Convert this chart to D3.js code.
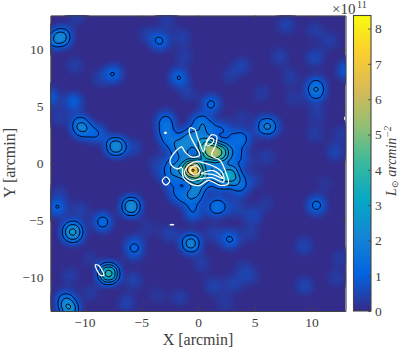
<!DOCTYPE html>
<html>
<head>
<meta charset="utf-8">
<script src="https://cdn.jsdelivr.net/npm/d3@7"></script>
<style>
  html, body { margin: 0; background: #fff; }
  text { font-family: "Liberation Serif", serif; fill: #404040; }
</style>
</head>
<body>
<svg id="chart" width="399" height="349"></svg>
<script>
// luminosity peaks: position in arcmin, peak in 1e11 Lsun/arcmin^2
// the map is the smoothed sum of these, done with d3.contourDensity
const peakX = [
  -0.47, 1.0, 2.0, 2.76, -0.26, -2.85, -2.85, -2.75, -2.4, 0.1, 0.9, 2.2, 3.4, 4.1, -0.7, 0.6, -1.3, -1.9, 1.2, 0.2, 1.94, -0.41, 1.88, 1.4, 1.15,
  -1.8, -2.2, -2.2, -1.9, -1.1, 3.7, 3.6, 3.4,
  -12, -12.9, -3.35, -7.45, -1.7, -10.97, -13.1, -10.4, -10.2, -8.9, -7.24, 10.4, 10.4, 5.97, 6.7, 13.1,
  -12.4, -5.9, -8.4, -11.3, -10.8, -11.05, -11.05, -5.62, -5.62, -0.64, -7.88, -11.67, -11.3, 2.82, 10.44,
  -10.86, -8.65, -4.5, -1.4, -2.76, -1.2, -10.7, -12.3, -5.7, -0.9, 7.77, 10.3, 11.65, 10.3, 7.2, 3.86, 2.8, 8.18, 5.6, 8.4, 10.5, 10.3, 12.7, 12.1, 6.06,
  -10.4, -11.3, -9.5, -5.7, -6.3, -2.5, -1.6, -3.6, -4.4, -9.5, -12.2, 4.87, 4.6, 1.35, 9.35, 12.5, 4, 4.6, 3.1, 1.35, 9.4, 12.2, 2.4, 0.3, 6.06, 3.3, 11.2,
  -3.6, 4.2, 5, 3.9, -3.2
]
const peakY = [
  -0.56, 0.94, 0.94, -0.97, -2.64, 3.9, 3.1, 2.3, 1.6, 3.6, 3.1, 2.9, 2.1, 2.2, 2.3, 1.75, 1.15, -0.6, -0.77, -1.5, -1.76, -4.29, -3.8, -3.9, 5.2,
  2, 0, -1.5, -2.7, -3, -1.6, -2.4, 0.7,
  11.1, 10.8, 10.75, 7.87, 7.55, 5.4, 5.8, 3.5, 2.9, 2.6, 1.47, 6.85, 6.15, 3.26, 3.2, 8.2,
  -3.9, -3.8, -5.17, -6.05, -6.05, -6.4, -5.7, -7.1, -7.8, -7.05, -9.7, -12.07, -12.95, -6.7, -3.7,
  8.6, 7.5, 11.3, 11.1, 12.6, 9.4, 12.9, 4, 1.4, 6.2, 12.16, 11.7, 10.8, 9.3, 9.4, 8.57, 7.75, 7.6, 6.15, 5.7, 4.4, 2.6, 2.6, 1, 0.55,
  -4.1, -9.9, -8.4, -10.3, -12.3, -6.2, -11.8, -11.6, -5.7, -11.4, -2.6, -4.6, -6.2, -6.2, -7.3, -8.3, -9.2, -10, -10.6, -10.8, -10.8, -10.1, -12.3, -8.8, -3.5, -4, -1.8,
  0, 0.2, -1.5, 4, -1
]
const peakValue = [
  7.8, 4.2, 4.2, 3.1, 1.8, 0.95, 0.95, 0.85, 0.6, 1.3, 1.1, 1.0, 0.95, 0.8, 1.9, 2.4, 1.9, 1.4, 1.6, 1.8, 1.3, 1.1, 1.05, 0.75, 1.25,
  0.5, 0.8, 0.8, 0.9, 0.7, 1.0, 0.7, 1.0,
  2.2, 0.9, 1.2, 1.1, 1.15, 1.04, 1.05, 1.25, 1.25, 1.1, 2.55, 1.15, 1.15, 1.8, 0.5, 1.05,
  1.12, 2.7, 1.4, 1.0, 1.0, 0.7, 0.7, 0.75, 0.75, 2.3, 4.2, 1.6, 2.2, 1.2, 1.3,
  0.4, 0.4, 0.4, 0.45, 0.4, 0.4, 0.4, 0.4, 0.5, 0.4, 0.5, 0.4, 0.4, 0.6, 0.45, 0.5, 0.35, 0.4, 0.35, 0.35, 0.4, 0.4, 0.4, 0.55, 0.4,
  0.45, 0.4, 0.3, 0.5, 0.5, 0.5, 0.4, 0.3, 0.3, 0.35, 0.35, 0.6, 0.4, 0.45, 0.55, 0.35, 0.35, 0.4, 0.5, 0.5, 0.55, 0.4, 0.35, 0.4, 0.3, 0.5, 0.25,
  0.4, 0.4, 0.4, 0.35, 0.4
]

const contourLevels = [1, 1.7, 2.5, 3.4, 4.5, 6, 7.2]

// white contours (second map), traced in arcmin
const whiteContours = [
  [[-0.71,3.11],[-0.27,2.96],[-0.06,2.32],[0.23,1.58],[0.47,0.99],[0.75,1.9],[1.2,2.5],[1.65,2.35],[1.55,1.6],[1.2,0.7],[1.94,0.26],[2.38,-0.62],[2.67,-1.79],[1.94,-1.94],[0.91,-1.5],[0.17,-1.94],[-0.71,-1.79],[-1.3,-1.26],[-1.44,-0.38],[-1.83,-0.5],[-2.33,-0.18],[-2.47,0.26],[-1.88,1.14],[-1.44,1.44],[-1.15,1],[-0.56,0.56],[0.15,0.7],[-0.27,1.6],[-0.75,2.6]],
  [[0.78,1.88],[1.2,2.22],[1.4,2.0],[1.05,1.6],[0.78,1.55]],
  [[-1.15,-0.62],[-0.4,0.1],[0.8,-0.05],[2.1,-0.75],[2.25,-1.65],[1.2,-1.27],[0.3,-1.35],[-0.55,-1.5],[-1.15,-1.05]],
  [[-0.7,-0.62],[-0.25,-0.2],[0.2,-0.62],[-0.27,-1.05]],
  [[0.3,-0.9],[1.35,-0.65],[2.2,-1.35],[1.35,-1.0]],
  [[-3.15,-1.56],[-2.83,-1.2],[-2.5,-1.56],[-2.83,-1.92]],
  [[-9.05,-8.95],[-8.75,-9.0],[-8.3,-9.85],[-8.6,-9.85]],
  [[-2.92,2.72],[-2.82,2.72],[-2.82,2.64],[-2.92,2.64]],
  [[-2.45,-5.4],[-2.15,-5.4],[-2.15,-5.41],[-2.45,-5.41]],
  [[12.95,4.05],[13.1,4.05],[13.1,3.85],[12.95,3.85]]
]

const xTicks = [-10, -5, 0, 5, 10]
const yTicks = [-10, -5, 0, 5, 10]
const barTicks = [0, 1, 2, 3, 4, 5, 6, 7, 8]
const parula = ['#352a87', '#0363e1', '#1485d4', '#06a7c6', '#38b99e', '#92bf73', '#d9ba56', '#fcce2e', '#f9fb0e']

const plot = { left: 50.5, top: 15.5, width: 295, height: 295.5 }
const bar = { left: 353.5, width: 17.5 }
const bandwidth = 6.5
const axisColor = '#444'

const x = d3.scaleLinear().domain([-13, 13]).range([0, plot.width])
const y = d3.scaleLinear().domain([-13, 13]).range([plot.height, 0])
const c = d3.scaleLinear().domain([0, 8.37]).range([plot.height, 0])
const color = d3.scaleLinear()
  .domain(parula.map((d, i) => i * 8.37 / (parula.length - 1)))
  .range(parula)
  .clamp(true)

const svg = d3.select('#chart')

const clip = svg.append('defs').append('clipPath').attr('id', 'plot-clip')
clip.append('rect').attr('width', plot.width).attr('height', plot.height)

const g = svg.append('g').attr('transform', 'translate(' + plot.left + ',' + plot.top + ')')
const map = g.append('g').attr('clip-path', 'url(#plot-clip)')

map.append('rect')
  .attr('width', plot.width)
  .attr('height', plot.height)
  .attr('fill', color(0.03))

const peaks = d3.range(peakX.length)
const weight = i => peakValue[i] * 2 * Math.PI * bandwidth * bandwidth

function density(levels) {
  return d3.contourDensity()
    .x(i => x(peakX[i]))
    .y(i => y(peakY[i]))
    .weight(weight)
    .size([plot.width, plot.height])
    .cellSize(1)
    .bandwidth(bandwidth)
    .thresholds(levels)(peaks)
}

const path = d3.geoPath()
const fillLevels = d3.range(0.06, 2, 0.04).concat(d3.range(2, 8.4, 0.08))

map.selectAll('path.fill')
  .data(density(fillLevels))
  .join('path')
  .attr('class', 'fill')
  .attr('d', path)
  .attr('fill', d => color(d.value))

map.selectAll('path.level')
  .data(density(contourLevels))
  .join('path')
  .attr('class', 'level')
  .attr('d', path)
  .attr('fill', 'none')
  .attr('stroke', '#05051a')
  .attr('stroke-width', 1)

const whiteLine = d3.line()
  .x(d => x(d[0]))
  .y(d => y(d[1]))
  .curve(d3.curveCatmullRomClosed.alpha(0.5))

map.selectAll('path.white')
  .data(whiteContours)
  .join('path')
  .attr('class', 'white')
  .attr('d', whiteLine)
  .attr('fill', 'none')
  .attr('stroke', '#fff')
  .attr('stroke-width', 1.25)

// frame and ticks
function styleAxis(sel) {
  sel.selectAll('path.domain').attr('stroke', axisColor).attr('stroke-width', 1.1)
  sel.selectAll('line').attr('stroke', axisColor).attr('stroke-width', 0.8)
  sel.selectAll('text').attr('font-size', 13.5).attr('font-family', '"Liberation Serif", serif').attr('fill', '#404040')
}

g.append('g').attr('transform', 'translate(0,' + plot.height + ')')
  .call(d3.axisBottom(x).tickValues(xTicks).tickSizeInner(-4).tickSizeOuter(0).tickPadding(6))
  .call(styleAxis)
g.append('g')
  .call(d3.axisLeft(y).tickValues(yTicks).tickSizeInner(-4).tickSizeOuter(0).tickPadding(7))
  .call(styleAxis)
g.append('g')
  .call(d3.axisTop(x).tickValues(xTicks).tickSizeInner(-4).tickSizeOuter(0).tickFormat(''))
  .call(styleAxis)
g.append('g').attr('transform', 'translate(' + plot.width + ',0)')
  .call(d3.axisRight(y).tickValues(yTicks).tickSizeInner(-4).tickSizeOuter(0).tickFormat(''))
  .call(styleAxis)

// colorbar
const gradient = svg.select('defs').append('linearGradient')
  .attr('id', 'parula')
  .attr('x1', 0).attr('x2', 0).attr('y1', 1).attr('y2', 0)
gradient.selectAll('stop')
  .data(parula)
  .join('stop')
  .attr('offset', (d, i) => i / (parula.length - 1))
  .attr('stop-color', d => d)

const cb = svg.append('g').attr('transform', 'translate(' + bar.left + ',' + plot.top + ')')
cb.append('rect')
  .attr('width', bar.width)
  .attr('height', plot.height)
  .attr('fill', 'url(#parula)')
  .attr('stroke', axisColor)
  .attr('stroke-width', 1.1)
cb.append('g').attr('transform', 'translate(' + bar.width + ',0)')
  .call(d3.axisRight(c).tickValues(barTicks).tickFormat(d3.format('d')).tickSizeInner(-3).tickSizeOuter(0).tickPadding(4))
  .call(styleAxis)
  .call(a => a.select('path.domain').remove())

// labels
svg.append('text').attr('x', 198).attr('y', 345).attr('text-anchor', 'middle')
  .attr('font-size', 16).text('X [arcmin]')
svg.append('text').attr('transform', 'translate(15,163) rotate(-90)').attr('text-anchor', 'middle')
  .attr('font-size', 16).text('Y [arcmin]')
svg.append('text').attr('x', 332).attr('y', 14).attr('font-size', 15).text('×10')
svg.append('text').attr('x', 357).attr('y', 8).attr('font-size', 10).text('11')

const barLabel = svg.append('text')
  .attr('transform', 'translate(396,161) rotate(-90)')
  .attr('text-anchor', 'middle')
  .attr('font-size', 14)
  .attr('font-style', 'italic')
barLabel.append('tspan').text('L')
barLabel.append('tspan').attr('dy', 2).attr('font-size', 9).attr('font-style', 'normal').text('⊙')
barLabel.append('tspan').attr('dy', -2).text(' arcmin')
barLabel.append('tspan').attr('dy', -5).attr('font-size', 10).text('−2')
</script>
</body>
</html>
